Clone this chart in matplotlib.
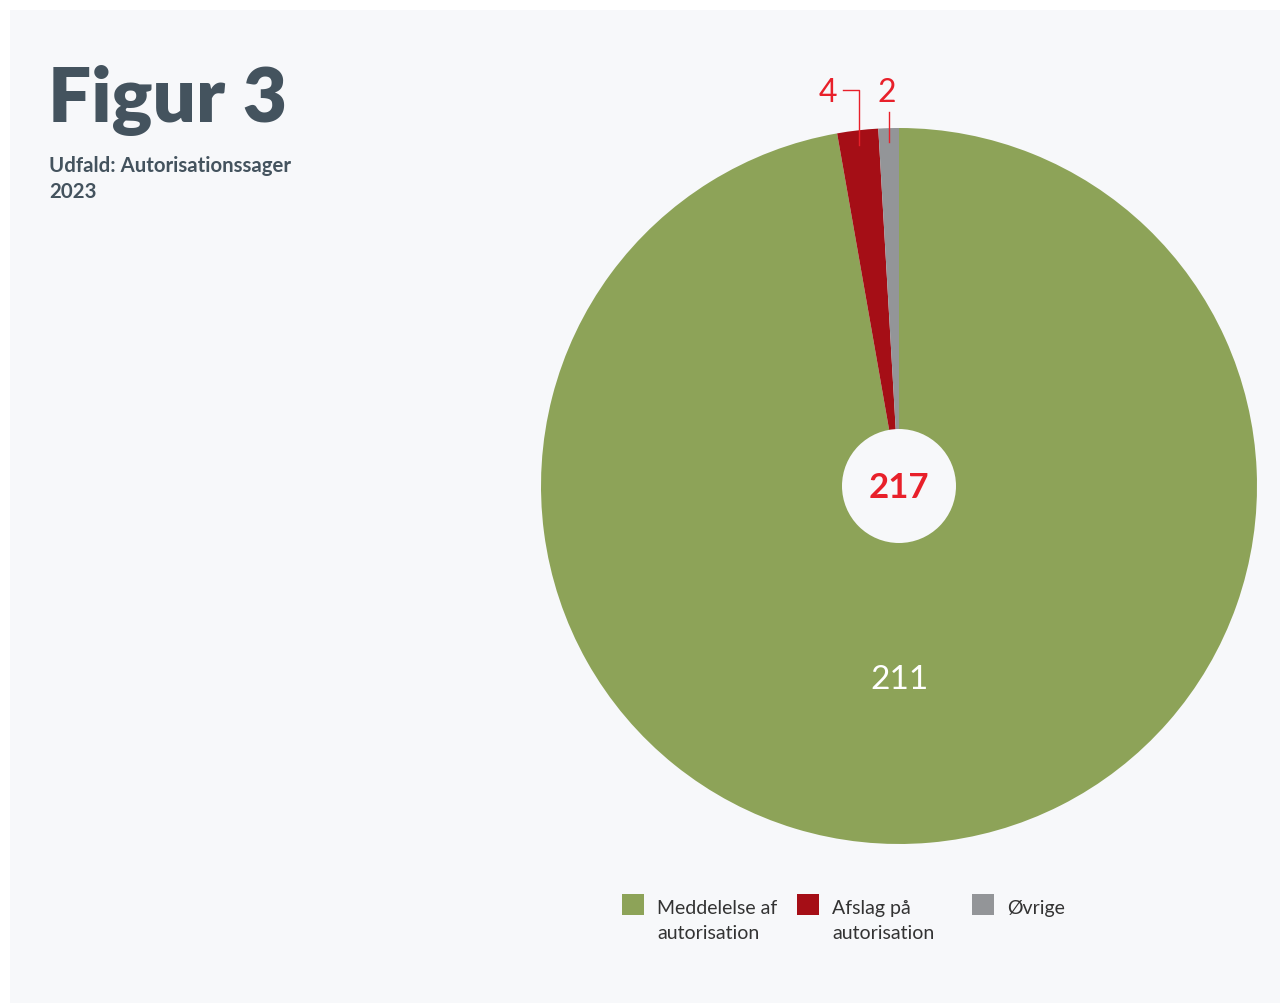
import numpy as np
import matplotlib
matplotlib.use("Agg")
import matplotlib.pyplot as plt
from matplotlib.patches import Rectangle, Circle

# ---- data ----
categories = ["Meddelelse af\nautorisation", "Afslag på\nautorisation", "Øvrige"]
values = [211, 4, 2]
colors = ["#8da358", "#a50e16", "#939598"]
total = sum(values)
title = "Figur 3"
subtitle_lines = ["Udfald: Autorisationssager", "2023"]

W, H = 1284, 1005
plt.rcParams['font.family'] = ['Lato', 'DejaVu Sans']
fig = plt.figure(figsize=(W / 100, H / 100), dpi=100)
fig.patch.set_facecolor("white")

def fx(px):
    return px / W

def fy(py):
    return 1 - py / H

panel = "#f7f8fa"
fig.patches.append(Rectangle((fx(10), fy(1003)), fx(1280) - fx(10), fy(10) - fy(1003),
                             transform=fig.transFigure, facecolor=panel,
                             edgecolor="none", zorder=-5))

title_color = "#44535e"
fig.text(fx(48), fy(122), title, fontsize=55, fontweight="heavy", color=title_color,
         va="baseline", ha="left")
fig.text(fx(49), fy(172), subtitle_lines[0], fontsize=14.7, fontweight="bold",
         color=title_color, va="baseline", ha="left")
fig.text(fx(49), fy(198), subtitle_lines[1], fontsize=14.7, fontweight="bold",
         color=title_color, va="baseline", ha="left")

# pie axes
cx, cy, R = 899, 486, 358
ax = fig.add_axes([fx(cx - R), fy(cy + R), 2 * R / W, 2 * R / H])
ax.set_facecolor("none")
wedges, _ = ax.pie(values, colors=colors, startangle=90, counterclock=False,
                   radius=1, wedgeprops=dict(linewidth=0))
ax.set_xlim(-1, 1)
ax.set_ylim(-1, 1)
ax.set_aspect("equal")
ax.axis("off")
ax.add_patch(Circle((0, 0), 57 / R, facecolor=panel, edgecolor="none", zorder=5))
ax.text(0, -2 / R, str(total), fontsize=25, fontweight="bold", color="#e8202a",
        ha="center", va="center", zorder=6)

label_red = "#e8202a"
cum = np.cumsum([0] + values)
mids = [90 - 360 * (cum[i] + values[i] / 2) / total for i in range(len(values))]
unit = 1 / R
ax.text(0, -0.541, str(values[0]), fontsize=24,
        color="white", ha="center", va="center", zorder=6)

r_in = 0.96
top_y = (cy - 90) * unit
text_y = (cy - 93) * unit
a = np.deg2rad(mids[1])
x0 = r_in * np.cos(a)
ax.plot([x0, x0, x0 - 16 * unit], [r_in * np.sin(a), top_y, top_y],
        color=label_red, lw=1.0, clip_on=False, zorder=6)
ax.text(x0 - 22 * unit, text_y, str(values[1]), fontsize=23, color=label_red,
        ha="right", va="center", clip_on=False)
a = np.deg2rad(mids[2])
x0 = r_in * np.cos(a)
ax.plot([x0, x0], [r_in * np.sin(a), (cy - 112) * unit],
        color=label_red, lw=1.0, clip_on=False, zorder=6)
ax.text(x0 - 2 * unit, text_y, str(values[2]), fontsize=23, color=label_red,
        ha="center", va="center", clip_on=False)

# legend
leg_x = [622, 797, 972]
for x, lab, col in zip(leg_x, categories, colors):
    fig.patches.append(Rectangle((fx(x), fy(915)), 22 / W, 21 / H,
                                 transform=fig.transFigure, facecolor=col,
                                 edgecolor="none", zorder=2))
    lines = lab.split("\n")
    for k, ln in enumerate(lines):
        fig.text(fx(x + 35), fy(914 + 25 * k), ln, fontsize=14, color="#333333",
                 va="baseline", ha="left")

fig.savefig("out.png", dpi=100, facecolor=fig.get_facecolor())
